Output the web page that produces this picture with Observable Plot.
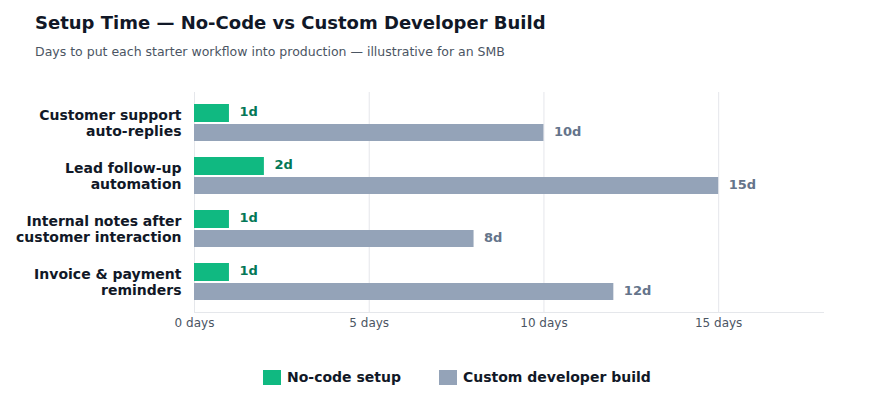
<!DOCTYPE html>
<html>
<head>
<meta charset="utf-8">
<script src="https://cdn.jsdelivr.net/npm/d3@7"></script>
<script src="https://cdn.jsdelivr.net/npm/@observablehq/plot@0.6"></script>
<style>
  html, body { margin: 0; padding: 0; background: #fff; font-family: "DejaVu Sans", sans-serif; }
  #wrap { width: 876px; height: 400px; position: relative; overflow: hidden; }
  #title { position: absolute; left: 35px; top: 12px; font-size: 18px; font-weight: bold; color: #111827; white-space: nowrap; line-height: 22px; }
  #subtitle { position: absolute; left: 35px; top: 44px; font-size: 12.5px; color: #4b5563; white-space: nowrap; line-height: 16px; }
  #chart { position: absolute; left: 0; top: 80px; }
  #legend { position: absolute; left: 263px; top: 368px; display: flex; gap: 38px; font-size: 14px; font-weight: bold; color: #111827; line-height: 18px; }
  .item { display: flex; align-items: center; gap: 6px; }
  .sw { width: 18px; height: 15px; display: inline-block; }
</style>
</head>
<body>
<div id="wrap">
  <div id="title">Setup Time — No-Code vs Custom Developer Build</div>
  <div id="subtitle">Days to put each starter workflow into production — illustrative for an SMB</div>
  <div id="chart"></div>
  <div id="legend"></div>
</div>
<script>
const categories = [
  "Customer support\nauto-replies",
  "Lead follow-up\nautomation",
  "Internal notes after\ncustomer interaction",
  "Invoice & payment\nreminders"
];
const noCodeDays = [1, 2, 1, 1];
const customDays = [10, 15, 8, 12];
const seriesNames = ["No-code setup", "Custom developer build"];
const seriesColors = ["#10b981", "#94a3b8"];
const labelColors = ["#047857", "#64748b"];
const xTicks = [0, 5, 10, 15];

const noCode = categories.map((c, i) => ({category: c, days: noCodeDays[i]}));
const custom = categories.map((c, i) => ({category: c, days: customDays[i]}));

const chart = Plot.plot({
  width: 876,
  height: 260,
  marginLeft: 194,
  marginRight: 53,
  marginTop: 12,
  marginBottom: 28,
  style: {fontFamily: "DejaVu Sans, sans-serif", background: "transparent"},
  x: {domain: [0, 18], ticks: xTicks, tickFormat: d => `${d} days`, label: null},
  y: {domain: categories, paddingInner: 0.31, paddingOuter: 0.2, label: null},
  marks: [
    Plot.ruleX(xTicks, {stroke: "#e5e7eb", strokeWidth: 1}),
    Plot.frame({anchor: "bottom", stroke: "#e5e7eb"}),
    Plot.barX(noCode, {x: "days", y: "category", fill: seriesColors[0], insetBottom: 19}),
    Plot.barX(custom, {x: "days", y: "category", fill: seriesColors[1], insetTop: 20}),
    Plot.text(noCode, {x: "days", y: "category", text: d => `${d.days}d`, dx: 10, dy: -11, textAnchor: "start", fill: labelColors[0], fontWeight: "bold", fontSize: 13}),
    Plot.text(custom, {x: "days", y: "category", text: d => `${d.days}d`, dx: 10, dy: 9, textAnchor: "start", fill: labelColors[1], fontWeight: "bold", fontSize: 13}),
    Plot.axisX({ticks: xTicks, tickFormat: d => `${d} days`, tickSize: 0, tickPadding: 6, fontSize: 12, color: "#4b5563", label: null}),
    Plot.axisY({tickSize: 0, tickPadding: 13, fontSize: 14, fontWeight: "bold", fill: "#111827", lineHeight: 1.12, label: null})
  ]
});
document.getElementById("chart").appendChild(chart);

const legend = document.getElementById("legend");
seriesNames.forEach((n, i) => {
  const it = document.createElement("div");
  it.className = "item";
  const sw = document.createElement("span");
  sw.className = "sw";
  sw.style.background = seriesColors[i];
  const t = document.createElement("span");
  t.textContent = n;
  it.appendChild(sw); it.appendChild(t);
  legend.appendChild(it);
});
</script>
</body>
</html>
